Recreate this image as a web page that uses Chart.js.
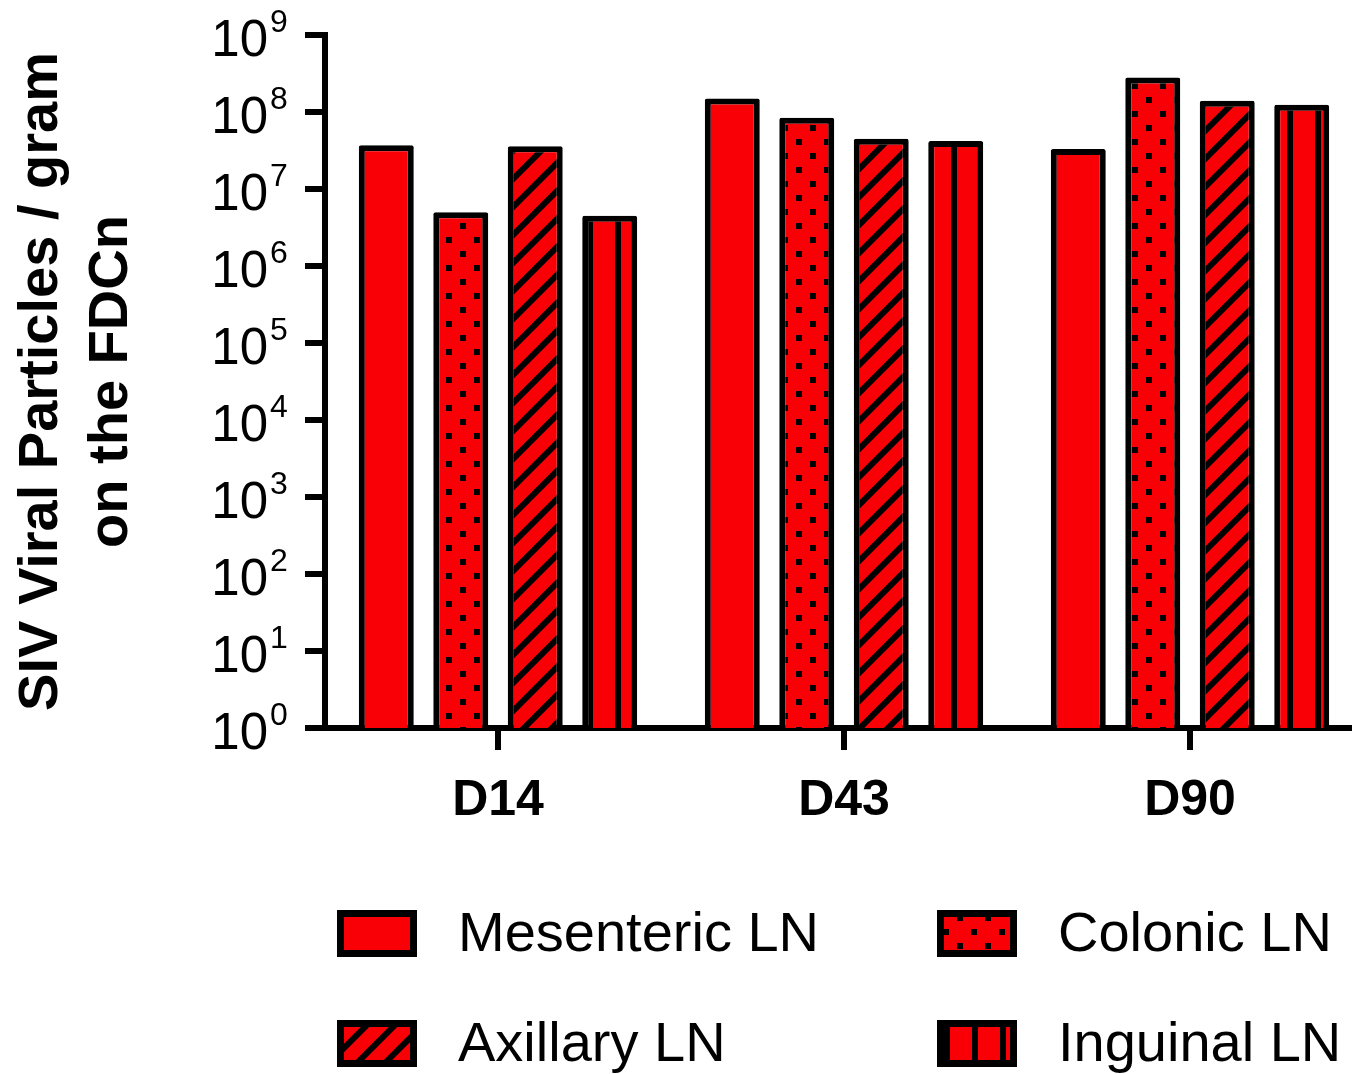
<!DOCTYPE html>
<html>
<head>
<meta charset="utf-8">
<title>SIV viral particles on the FDCn</title>
<script src="https://cdn.jsdelivr.net/npm/chart.js@4.4.1/dist/chart.umd.min.js"></script>
<style>
  html, body { margin: 0; padding: 0; background: #fff; overflow: hidden; }
  #wrap { width: 1352px; height: 1074px; overflow: hidden; position: relative; }
  #wrap canvas { position: absolute; left: 0; top: 0; }
</style>
</head>
<body>
<div id="wrap"><canvas id="chart" width="1370" height="1074"></canvas></div>
<script>
// ---- data ----
const days = ['D14', 'D43', 'D90'];
const nodeNames = ['Mesenteric LN', 'Colonic LN', 'Axillary LN', 'Inguinal LN'];
const mesenteric = [3.7e7, 1.5e8, 3.3e7];
const colonic    = [5.0e6, 8.4e7, 2.8e8];
const axillary   = [3.6e7, 4.5e7, 1.4e8];
const inguinal   = [4.5e6, 4.2e7, 1.24e8];
const yExponents = [0, 1, 2, 3, 4, 5, 6, 7, 8, 9];
const yTitle = ['SIV Viral Particles / gram', 'on the FDCn'];

// ---- styling ----
const RED = '#f90006';
const INK = '#000000';
const FONT = "'Liberation Sans', Arial, Helvetica, sans-serif";
Chart.defaults.font.family = FONT;
Chart.defaults.color = INK;

// fill patterns, 28px tiles anchored on the canvas origin
function tile(draw) {
  const c = document.createElement('canvas');
  c.width = 28; c.height = 28;
  const g = c.getContext('2d');
  g.fillStyle = RED;
  g.fillRect(0, 0, 28, 28);
  g.fillStyle = INK;
  g.strokeStyle = INK;
  draw(g);
  return document.getElementById('chart').getContext('2d').createPattern(c, 'repeat');
}
const solidFill = RED;
const dotFill = tile(g => {
  [[1, 16], [15, 2]].forEach(([cx, cy]) => {
    for (const dx of [-28, 0, 28]) for (const dy of [-28, 0, 28]) {
      g.fillRect(cx + dx - 3, cy + dy - 3, 6, 6);
    }
  });
});
const hatchFill = tile(g => {
  g.lineWidth = 6;
  g.beginPath();
  [-8, 20, 48].forEach(c => { g.moveTo(-10, c + 10); g.lineTo(c + 10, -10); });
  g.stroke();
});
const stripeFill = tile(g => {
  g.fillRect(-1, 0, 6, 28);
  g.fillRect(27, 0, 6, 28);
});

const fills = [solidFill, dotFill, hatchFill, stripeFill];
const seriesValues = [mesenteric, colonic, axillary, inguinal];

// y tick labels drawn as 10 with a raised exponent
const powerLabels = {
  id: 'powerLabels',
  afterDraw(chart) {
    const { ctx, scales: { y } } = chart;
    ctx.save();
    ctx.fillStyle = INK;
    ctx.textBaseline = 'alphabetic';
    y.ticks.forEach(t => {
      const py = y.getPixelForValue(t.value);
      const exp = Math.round(Math.log10(t.value));
      ctx.font = '51px ' + FONT;
      ctx.textAlign = 'right';
      ctx.fillText('10', y.right - 57, py + 21);
      ctx.font = '32px ' + FONT;
      ctx.textAlign = 'left';
      ctx.fillText(String(exp), y.right - 55, py - 3);
    });
    ctx.restore();
  }
};

// two-column legend under the axis
const gridLegend = {
  id: 'gridLegend',
  afterDraw(chart) {
    const { ctx } = chart;
    const cols = [337, 937];
    const rows = [910, 1020];
    const shifts = [[0, 0], [-7, 20], [0, 0], [21, 0]];
    ctx.save();
    chart.data.datasets.forEach((ds, i) => {
      const x = cols[i % 2];
      const y = rows[Math.floor(i / 2)];
      ctx.fillStyle = INK;
      ctx.fillRect(x, y, 80, 47);
      const [dx, dy] = shifts[i];
      ctx.save();
      ctx.translate(dx, dy);
      ctx.fillStyle = ds.backgroundColor;
      ctx.fillRect(x + 7 - dx, y + 7 - dy, 66, 33);
      ctx.restore();
      ctx.fillStyle = INK;
      ctx.font = '56px ' + FONT;
      ctx.textAlign = 'left';
      ctx.textBaseline = 'alphabetic';
      ctx.fillText(ds.label, x + 121, y + 41);
    });
    ctx.restore();
  }
};

new Chart(document.getElementById('chart'), {
  type: 'bar',
  data: {
    labels: days,
    datasets: nodeNames.map((name, i) => ({
      label: name,
      data: seriesValues[i],
      backgroundColor: fills[i],
      borderColor: INK,
      borderWidth: 6,
      borderRadius: 2,
      categoryPercentage: 0.861,
      barPercentage: 0.738
    }))
  },
  options: {
    responsive: false,
    animation: false,
    layout: { padding: { top: 35, right: 7, left: 0, bottom: 0 } },
    plugins: { legend: { display: false }, tooltip: { enabled: false } },
    scales: {
      x: {
        offset: true,
        afterFit: s => { s.height = 346; },
        grid: { offset: false, drawOnChartArea: false, drawTicks: true, tickLength: 22, color: INK, lineWidth: 6 },
        border: { display: true, color: INK, width: 6 },
        ticks: { color: INK, font: { size: 50, weight: 'bold' }, padding: 21 }
      },
      y: {
        type: 'logarithmic',
        min: 1,
        max: 1e9,
        afterBuildTicks: s => { s.ticks = yExponents.map(e => ({ value: Math.pow(10, e) })); },
        afterFit: s => { s.width = 325; },
        ticks: { display: false },
        grid: { drawOnChartArea: false, drawTicks: true, tickLength: 20, color: INK, lineWidth: 6 },
        border: { display: true, color: INK, width: 6 },
        title: {
          display: true,
          text: yTitle,
          color: INK,
          font: { size: 56, weight: 'bold', lineHeight: 1.25 },
          padding: { top: 7, bottom: 0 }
        }
      }
    }
  },
  plugins: [powerLabels, gridLegend]
});
</script>
</body>
</html>
